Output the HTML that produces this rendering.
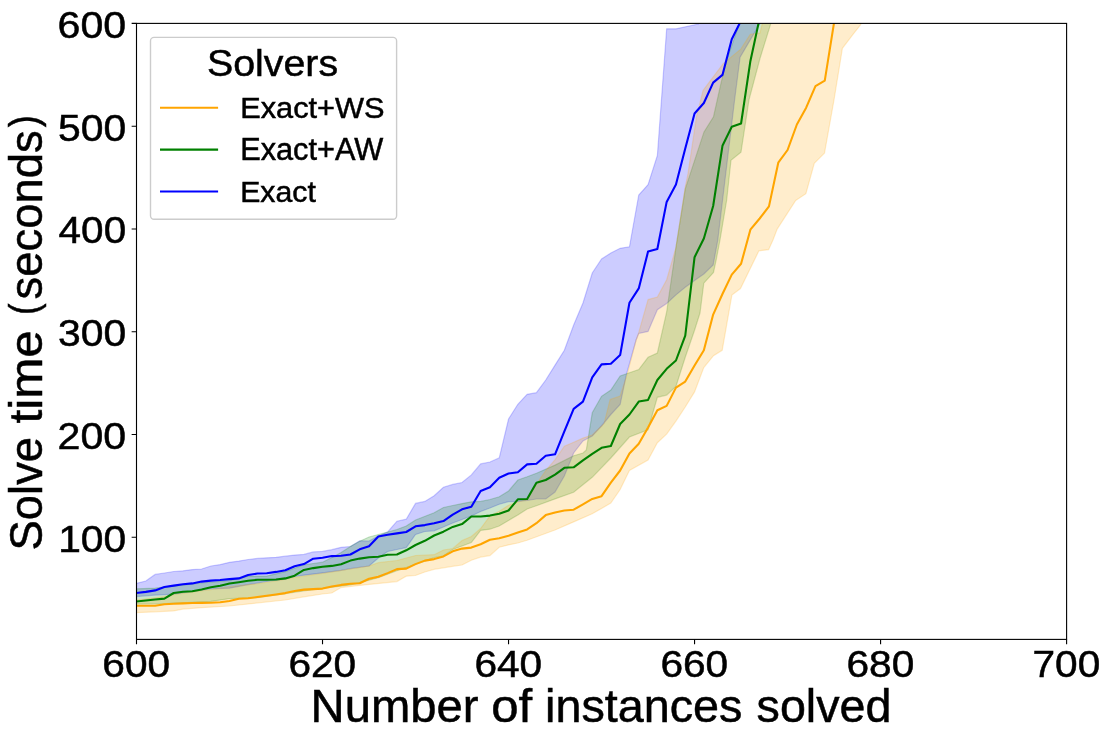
<!DOCTYPE html><html><head><meta charset="utf-8"><style>html,body{margin:0;padding:0;background:#fff;overflow:hidden}svg{display:block;will-change:transform}text{font-family:"Liberation Sans",sans-serif;fill:#000;stroke:#000;stroke-width:0.5px}</style></head><body>
<svg width="1110" height="740" viewBox="0 0 1110 740">
<rect width="1110" height="740" fill="#fff"/>
<defs><clipPath id="ax"><rect x="136.5" y="23.4" width="930.10" height="616.00"/></clipPath></defs>
<g clip-path="url(#ax)">
<path d="M136.5,583.3 L145.8,581 L155.1,574.4 L164.4,573 L173.7,571.5 L183,570.8 L192.31,569.6 L201.61,569 L210.91,566 L220.21,564.6 L229.51,562.3 L238.81,561.1 L248.11,559.5 L257.41,558.4 L266.71,557.8 L276.01,557.3 L285.32,556.2 L294.62,555.1 L303.92,554.4 L313.22,551.9 L322.52,551.4 L331.82,549.7 L341.12,547.3 L350.42,546.5 L359.72,540.8 L369.02,541 L378.33,536.1 L387.63,532 L396.93,521.2 L406.23,519.2 L415.53,503.4 L424.83,501.4 L434.13,495.7 L443.43,487.2 L452.73,484.4 L462.04,482.5 L471.34,474.9 L480.64,463.9 L489.94,462 L499.24,457.9 L508.54,419 L517.84,404.3 L527.14,394.3 L536.44,392.7 L545.74,380 L555.05,365.1 L564.35,350.3 L573.65,325 L582.95,303 L592.25,273 L601.55,259 L610.85,253 L620.15,248.3 L629.45,246.8 L638.75,195 L648.06,184.6 L657.36,155.5 L666.66,28.8 L675.96,28.8 L698.4,24 L720,-30 L1000,-30 L1000,-30 L780,-30 L760,23.4 L740.1,57.2 L734.6,100 L717.8,240 L713.16,264.9 L703.86,274 L694.56,280.5 L685.26,287.3 L675.96,294.9 L666.66,303.5 L657.36,309.7 L648.06,331.4 L638.75,333.5 L636.1,340 L626.5,374.2 L620.15,404.5 L610.85,414.5 L601.55,426 L592.25,436 L582.95,441 L573.65,453 L564.35,476 L555.05,492 L545.74,499 L536.44,499 L527.14,500.5 L517.84,501.5 L508.54,501.6 L499.24,504.2 L489.94,508 L480.64,511.5 L471.34,516 L462.04,519.5 L452.73,523 L443.43,527 L434.13,530.8 L424.83,531.5 L415.53,534.5 L406.23,547.6 L396.93,549.5 L387.63,551.5 L378.33,558 L369.02,566 L350.42,568.6 L341.12,570.3 L322.52,572.9 L303.92,575.2 L294.62,576.5 L285.32,579.2 L266.71,581.5 L248.11,584.6 L229.51,588.2 L210.91,588.8 L192.31,591.5 L173.7,594.2 L155.1,595.1 L136.5,596.5 Z" fill="#0000ff" fill-opacity="0.2" stroke="#0000ff" stroke-opacity="0.2" stroke-width="1.2" stroke-linejoin="miter"/>
<path d="M136.5,588.8 L155.1,588.1 L173.7,586.1 L201.61,583 L229.51,580.6 L248.11,576.1 L266.71,576.1 L285.32,571.6 L303.92,564.8 L313.22,563.5 L322.52,562.2 L331.82,557.5 L341.12,552.5 L350.42,546.5 L359.72,541.2 L369.02,537 L378.33,534.5 L387.63,532 L396.93,529.5 L406.23,526 L415.53,520 L434.13,512.8 L443.43,507.5 L452.73,505.5 L462.04,503.6 L471.34,501.8 L480.64,501.4 L489.94,499.5 L499.24,496.7 L508.54,491 L517.84,480 L527.14,476.8 L536.44,473.2 L555.05,465.1 L573.65,455.7 L582.95,453 L586.3,450 L592.25,412.8 L601.55,396.3 L610.85,390 L620.15,376 L638.75,369.5 L648.06,357.3 L657.36,353 L666.66,312 L675.96,247.3 L685.26,188.9 L704,131.9 L713.5,116.7 L721.1,82.7 L726.7,60 L739.5,23.4 L760,-30 L1000,-30 L1000,-30 L790,-30 L775,10 L760,58.5 L749,99.8 L741,152.3 L731,160.3 L726.7,200 L720,240 L716.2,260 L713.5,272.4 L703.8,283.2 L700,313 L694.56,330.3 L685.26,357.3 L675.96,386.5 L666.66,395.1 L657.36,397.3 L648.06,429.7 L629.45,437 L610.85,458 L592.25,477.3 L573.65,492.2 L555.05,498.9 L536.44,505.7 L527.14,509 L517.84,515 L499.24,526 L489.94,529.2 L480.64,530.4 L471.34,542.6 L452.73,549.5 L443.43,556 L434.13,557.5 L424.83,561.1 L415.53,564.2 L396.93,570.8 L378.33,577.8 L359.72,582.7 L350.42,584.9 L322.52,588.5 L303.92,591 L285.32,593.6 L257.41,597.7 L229.51,598.7 L210.91,601.4 L192.31,602.3 L155.1,604 L136.5,604.1 Z" fill="#008000" fill-opacity="0.2" stroke="#008000" stroke-opacity="0.2" stroke-width="1.2" stroke-linejoin="miter"/>
<path d="M136.5,600.1 L155.1,597.8 L164.4,596.5 L173.7,594.7 L192.31,592 L210.91,589.7 L229.51,586.5 L257.41,583.7 L276.01,581 L294.62,577.4 L322.52,573.4 L369.02,566 L378.33,562.7 L396.93,560.5 L415.53,555.5 L434.13,554.7 L443.43,550 L452.73,548.5 L462.04,540.5 L471.34,536.5 L480.64,528.5 L489.94,516 L499.24,511.3 L508.54,505.3 L517.84,502 L527.14,499.5 L536.44,484.1 L545.74,470.5 L555.05,459.7 L564.35,446.2 L573.65,442.2 L582.95,438.1 L592.25,435 L601.55,426 L604.2,423.2 L610.1,399.4 L620.15,396 L627.2,374.2 L636.1,340 L638.75,332.4 L648.06,299.6 L657.36,297 L666.66,279.7 L675.96,247.3 L685.26,186.8 L688,173.5 L696.5,116.7 L703.1,90.3 L723,63.8 L740.8,49.1 L750.3,34.2 L760,32.9 L775,-30 L1000,-30 L1000,-30 L870,-30 L860.8,24.5 L853.2,34.2 L842.4,48.3 L834,100 L824.5,153.1 L814.3,163.3 L805.9,193.7 L795.7,200.4 L777.2,229.1 L773,240 L768.6,249.7 L758.9,250.8 L740.5,288.6 L731.9,295.1 L722.2,350.3 L713.5,355.7 L703.8,367.6 L694.56,391.9 L685.26,407 L675.96,421.1 L666.66,434.1 L657.36,442.7 L648.06,460 L629.45,470.5 L620.15,489.5 L610.85,503 L601.55,508.4 L592.25,513.8 L573.65,521.9 L555.05,530 L527.14,540.2 L517.84,543 L508.54,544.9 L499.24,547.2 L489.94,555.6 L480.64,557.1 L471.34,560.2 L462.04,565 L452.73,566.3 L434.13,569.3 L424.83,572 L415.53,575.5 L406.23,576.2 L396.93,581.6 L359.72,585.4 L341.12,587.6 L331.82,593 L322.52,594 L303.92,596.8 L285.32,600 L229.51,606 L201.61,607.7 L183,609.1 L173.7,610.9 L155.1,611.8 L136.5,612.7 Z" fill="#ffa500" fill-opacity="0.2" stroke="#ffa500" stroke-opacity="0.2" stroke-width="1.2" stroke-linejoin="miter"/>
<path d="M136.5,605.8 L145.8,605.8 L155.1,605.8 L164.4,604.2 L173.7,603.8 L183,603.4 L192.31,603 L201.61,602.9 L210.91,602.8 L220.21,602.3 L229.51,601 L238.81,598.8 L248.11,598.2 L257.41,597 L266.71,595.8 L276.01,594.5 L285.32,593.1 L294.62,591 L303.92,589.6 L313.22,589.1 L322.52,588.6 L331.82,586.5 L341.12,584.9 L350.42,583.8 L359.72,583.2 L369.02,578.7 L378.33,576.8 L387.63,573.1 L396.93,569.1 L406.23,568.6 L415.53,564.1 L424.83,560.6 L434.13,559.1 L443.43,556.4 L452.73,551.3 L462.04,548.6 L471.34,547.6 L480.64,544.2 L489.94,539.8 L499.24,538.3 L508.54,535.8 L517.84,532.6 L527.14,529.4 L536.44,523.2 L545.74,515.1 L555.05,512.4 L564.35,510.5 L573.65,509.7 L582.95,504.3 L592.25,498.9 L601.55,496.2 L610.85,482.7 L620.15,470.5 L629.45,453.5 L638.75,443.8 L648.06,427.6 L657.36,410.3 L666.66,405.9 L675.96,387.6 L685.26,381.6 L694.56,365.5 L703.86,350.3 L713.16,314.6 L722.46,294 L731.76,274.6 L741.07,263.8 L750.37,229.7 L759.67,218.5 L768.97,206.4 L778.27,162.7 L787.57,150 L796.87,124.5 L806.17,107.7 L815.47,86.1 L824.77,80.7 L834.08,22.5 L843.38,-40" fill="none" stroke="#ffa500" stroke-width="2.08" stroke-linejoin="round" stroke-linecap="square"/>
<path d="M136.5,601.5 L145.8,600.5 L155.1,599.5 L164.4,598.6 L173.7,593 L183,591.8 L192.31,591.2 L201.61,589.4 L210.91,587.3 L220.21,585.8 L229.51,583.5 L238.81,582.2 L248.11,580.8 L257.41,579.8 L266.71,579.8 L276.01,579.5 L285.32,578.4 L294.62,575.7 L303.92,569.9 L313.22,568.1 L322.52,566.8 L331.82,565.9 L341.12,564.2 L350.42,560.6 L359.72,558.6 L369.02,557.2 L378.33,556.7 L387.63,554.8 L396.93,554.5 L406.23,550.3 L415.53,545 L424.83,540.8 L434.13,535.5 L443.43,531.7 L452.73,526.9 L462.04,524.1 L471.34,516.5 L480.64,516.5 L489.94,515.6 L499.24,513.7 L508.54,510.5 L517.84,499.3 L527.14,499 L536.44,482.7 L545.74,480 L555.05,474.6 L564.35,467.8 L573.65,467.3 L582.95,460.3 L592.25,453.8 L601.55,447.8 L610.85,446 L620.15,424 L629.45,414.5 L638.75,401.6 L648.06,399.9 L657.36,380 L666.66,368.8 L675.96,360.5 L685.26,335.7 L694.56,257.2 L703.86,238.5 L713.16,206 L722.46,145.8 L731.76,126.8 L741.07,123.5 L750.37,61.2 L759.67,18 L768.97,-30" fill="none" stroke="#008000" stroke-width="2.08" stroke-linejoin="round" stroke-linecap="square"/>
<path d="M136.5,593 L145.8,591.9 L155.1,590.4 L164.4,587 L173.7,585.6 L183,584.3 L192.31,583.4 L201.61,581.6 L210.91,580.6 L220.21,580 L229.51,579.1 L238.81,578.4 L248.11,575.1 L257.41,573.5 L266.71,573.2 L276.01,571.9 L285.32,570.3 L294.62,566.3 L303.92,564.1 L313.22,558.7 L322.52,557.7 L331.82,556.1 L341.12,555.7 L350.42,554.5 L359.72,549.3 L369.02,546.3 L378.33,536.5 L387.63,534.7 L396.93,533.4 L406.23,532 L415.53,526.3 L424.83,525.1 L434.13,523.3 L443.43,521.1 L452.73,514.6 L462.04,509.3 L471.34,506.7 L480.64,491 L489.94,487.2 L499.24,477.7 L508.54,473.5 L517.84,472.2 L527.14,464.4 L536.44,463.8 L545.74,455.7 L555.05,454.3 L564.35,431.4 L573.65,408.9 L582.95,401.6 L592.25,377.3 L601.55,364.4 L610.85,363.8 L620.15,355.1 L629.45,302.8 L638.75,288.4 L648.06,251.6 L657.36,249 L666.66,201.9 L675.96,184.6 L685.26,148.6 L694.56,113.5 L703.86,103 L713.16,82.6 L722.46,74.9 L731.76,39.3 L741.07,20.5 L750.37,-30" fill="none" stroke="#0000ff" stroke-width="2.08" stroke-linejoin="round" stroke-linecap="square"/>
</g>
<rect x="136.5" y="23.4" width="930.10" height="616.00" fill="none" stroke="#000" stroke-width="1.11" stroke-linejoin="miter"/>
<path d="M131.64,537.30 H136.5 M131.64,434.52 H136.5 M131.64,331.74 H136.5 M131.64,228.97 H136.5 M131.64,126.19 H136.5 M131.64,23.41 H136.5 M136.50,639.4 V644.26 M322.52,639.4 V644.26 M508.54,639.4 V644.26 M694.56,639.4 V644.26 M880.58,639.4 V644.26 M1066.60,639.4 V644.26" stroke="#000" stroke-width="1.11" fill="none"/>
<text transform="translate(58.14,551.82) scale(1.0842,1)" font-size="37.61">100</text>
<text transform="translate(57.54,449.05) scale(1.0940,1)" font-size="37.61">200</text>
<text transform="translate(57.96,346.27) scale(1.0871,1)" font-size="37.61">300</text>
<text transform="translate(58.59,243.49) scale(1.0769,1)" font-size="37.61">400</text>
<text transform="translate(57.96,140.71) scale(1.0871,1)" font-size="37.61">500</text>
<text transform="translate(57.54,37.93) scale(1.0940,1)" font-size="37.61">600</text>
<text transform="translate(102.37,676.93) scale(1.0887,1)" font-size="37.32">600</text>
<text transform="translate(288.39,676.93) scale(1.0887,1)" font-size="37.32">620</text>
<text transform="translate(474.41,676.93) scale(1.0887,1)" font-size="37.32">640</text>
<text transform="translate(660.43,676.93) scale(1.0887,1)" font-size="37.32">660</text>
<text transform="translate(846.45,676.93) scale(1.0887,1)" font-size="37.32">680</text>
<text transform="translate(1032.47,676.93) scale(1.0887,1)" font-size="37.32">700</text>
<text transform="translate(310.62,722.3) scale(1.0282,1)" font-size="45.93">Number</text>
<text transform="translate(491.23,722.3) scale(1.0708,1)" font-size="45.93">of</text>
<text transform="translate(545.06,722.3) scale(1.0176,1)" font-size="45.93">instances</text>
<text transform="translate(756.6,722.3) scale(1.0150,1)" font-size="45.93">solved</text>
<g transform="rotate(-90)">
<text transform="translate(-550.44,41.9) scale(0.9943,1)" font-size="45.66">Solve</text>
<text transform="translate(-423.54,41.9) scale(1.0832,1)" font-size="45.66">time</text>
<text transform="translate(-299.46,41.9) scale(0.9946,1)" font-size="45.66">seconds</text>
<text transform="translate(-315.08,38.44) scale(0.8520,1)" font-size="40.75">(</text>
<text transform="translate(-127.36,38.44) scale(0.8872,1)" font-size="40.75">)</text>
</g>
<rect x="150.5" y="37.4" width="246.1" height="181.8" rx="3.5" ry="3.5" fill="#fff" fill-opacity="0.8" stroke="#cccccc" stroke-width="1.39"/>
<path d="M160,107.8 H218.1" stroke="#ffa500" stroke-width="2.08"/>
<path d="M160,149.6 H218.1" stroke="#008000" stroke-width="2.08"/>
<path d="M160,191.5 H218.1" stroke="#0000ff" stroke-width="2.08"/>
<text transform="translate(207.03,76.13) scale(1.0587,1)" font-size="37.14">Solvers</text>
<text transform="translate(240.14,117.91) scale(1.0452,1)" font-size="29.44">Exact+WS</text>
<text transform="translate(240.14,160) scale(1.0100,1)" font-size="30.43">Exact+AW</text>
<text transform="translate(240.18,201.91) scale(1.0272,1)" font-size="29.43">Exact</text>
</svg></body></html>
